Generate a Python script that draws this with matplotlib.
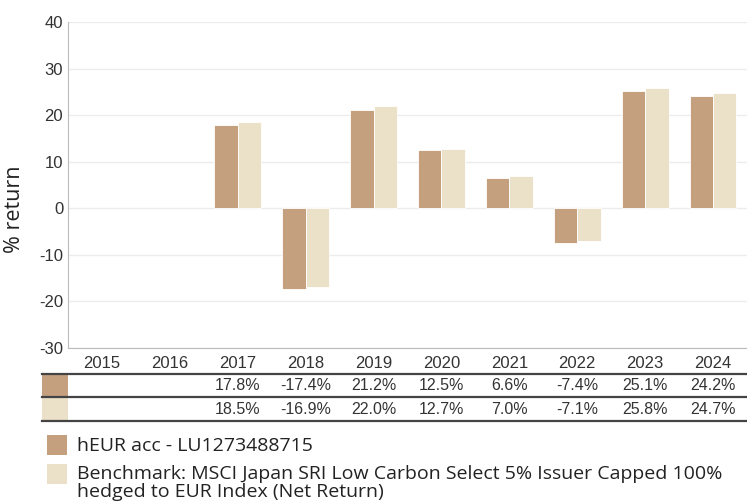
import matplotlib
matplotlib.use("Agg")
import matplotlib.pyplot as plt
from matplotlib.patches import Rectangle
from matplotlib.font_manager import fontManager

years = ["2015", "2016", "2017", "2018", "2019", "2020", "2021", "2022", "2023", "2024"]
fund = [None, None, 17.8, -17.4, 21.2, 12.5, 6.6, -7.4, 25.1, 24.2]
bench = [None, None, 18.5, -16.9, 22.0, 12.7, 7.0, -7.1, 25.8, 24.7]
fund_label = "hEUR acc - LU1273488715"
bench_label = ("Benchmark: MSCI Japan SRI Low Carbon Select 5% Issuer Capped 100%\n"
               "hedged to EUR Index (Net Return)")

fund_color = "#c4a07f"
bench_color = "#ebe0c8"

names = {f.name for f in fontManager.ttflist}
narrow = "Liberation Sans Narrow" if "Liberation Sans Narrow" in names else "Open Sans"
plt.rcParams['font.family'] = ['Liberation Sans', 'DejaVu Sans']
plt.rcParams['axes.unicode_minus'] = False

W, H = 747, 504
fig = plt.figure(figsize=(W / 100, H / 100), dpi=100)
ax = fig.add_axes([68 / W, 1 - 348 / H, 679 / W, 326 / H])

x = list(range(len(years)))
bw = 0.345
fx = [i - bw / 2 for i, v in zip(x, fund) if v is not None]
fv = [v for v in fund if v is not None]
bx = [i + bw / 2 for i, v in zip(x, bench) if v is not None]
bv = [v for v in bench if v is not None]
ax.bar(fx, fv, bw, color=fund_color, edgecolor="white", linewidth=0.6, zorder=3)
ax.bar(bx, bv, bw, color=bench_color, edgecolor="white", linewidth=0.6, zorder=3)

ax.set_xlim(-0.5, len(years) - 0.5)
ax.set_ylim(-30, 40)
ax.set_yticks(range(-30, 41, 10))
ax.set_xticks(x)
ax.set_xticklabels(years)
ax.tick_params(axis="both", length=0, labelsize=12, colors="#333333")
ax.tick_params(axis="x", pad=6)
ax.grid(axis="y", color="#ececec", linewidth=1, zorder=0)
for s in ["top", "right"]:
    ax.spines[s].set_visible(False)
ax.spines["left"].set_color("#bbbbbb")
ax.spines["bottom"].set_color("#bbbbbb")
ax.set_ylabel("% return", fontsize=15.5, color="#222222",
              family=["Open Sans", "DejaVu Sans"])
ax.yaxis.set_label_coords(-0.064, 0.426)

# table below the axis
def fy(py):
    return 1 - py / H

for py in [374, 397, 421]:
    fig.add_artist(plt.Line2D([42 / W, 1], [fy(py), fy(py)], color="#444444", linewidth=1.6))
fig.add_artist(Rectangle((42 / W, fy(396)), 26 / W, 21 / H, color=fund_color, lw=0))
fig.add_artist(Rectangle((42 / W, fy(420)), 26 / W, 22 / H, color=bench_color, lw=0))
for i, (a, b) in enumerate(zip(fund, bench)):
    cx = ax.transData.transform((i, 0))[0] / W
    if a is not None:
        fig.text(cx, fy(386), f"{a:.1f}%", ha="center", va="center", fontsize=11.5, color="#333333")
    if b is not None:
        fig.text(cx, fy(409), f"{b:.1f}%", ha="center", va="center", fontsize=11.5, color="#333333")

# legend
fig.add_artist(Rectangle((47 / W, fy(455)), 20 / W, 20 / H, color=fund_color, lw=0))
fig.add_artist(Rectangle((47 / W, fy(484)), 20 / W, 20 / H, color=bench_color, lw=0))
fig.text(77 / W, fy(446), fund_label, ha="left", va="center", fontsize=14,
         family=[narrow, 'DejaVu Sans'], color="#222222")
fig.text(77 / W, fy(465), bench_label, ha="left", va="top", fontsize=14,
         family=[narrow, 'DejaVu Sans'], color="#222222", linespacing=1.0)

fig.savefig("out.png", dpi=100)
